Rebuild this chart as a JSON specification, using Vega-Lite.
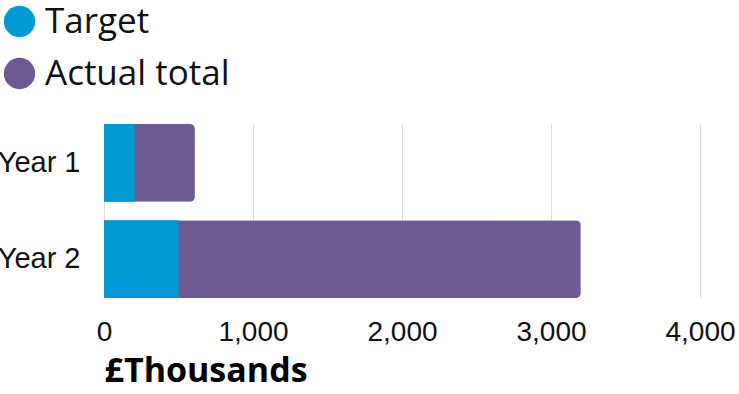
{
  "$schema": "https://vega.github.io/schema/vega-lite/v6.json",
  "autosize": {"type": "none"},
  "padding": {"left": 104, "top": 124, "right": 39, "bottom": 96},
  "width": 596,
  "height": 174,
  "background": "white",
  "config": {"view": {"stroke": null}},
  "data": {"values": [
    {"year": "Year 1", "series": "Actual total", "value": 610},
    {"year": "Year 2", "series": "Actual total", "value": 3200},
    {"year": "Year 1", "series": "Target", "value": 205},
    {"year": "Year 2", "series": "Target", "value": 500}
  ]},
  "encoding": {
    "y": {"field": "year", "type": "nominal", "title": null,
      "scale": {"paddingInner": 0.19, "paddingOuter": 0},
      "axis": {"domain": false, "ticks": false, "labelFont": "Liberation Sans", "labelFontSize": 29, "labelColor": "#111", "labelPadding": 24, "labelFontWeight": "normal"}},
    "x": {"field": "value", "type": "quantitative", "title": "£Thousands",
      "scale": {"domain": [0, 4000]},
      "axis": {"values": [0, 1000, 2000, 3000, 4000], "format": ",.0f", "domain": false, "ticks": false,
        "grid": true, "gridColor": "#dddddd", "gridWidth": 1, "labelFlush": false,
        "labelFont": "Liberation Sans", "labelFontSize": 28, "labelColor": "#111", "labelPadding": 20,
        "titleFont": "Open Sans", "titleFontWeight": "bold", "titleFontSize": 34, "titleColor": "#000",
        "titleAnchor": "start", "titleAlign": "left", "titlePadding": 8}},
    "color": {"field": "series", "type": "nominal",
      "scale": {"domain": ["Target", "Actual total"], "range": ["#0399d5", "#6e5a92"]},
      "legend": {"orient": "none", "legendX": -102, "legendY": -120, "title": null,
        "symbolType": "circle", "symbolSize": 980, "symbolStrokeWidth": 0, "symbolOpacity": 1,
        "labelFont": "Open Sans", "labelFontSize": 35, "labelColor": "#111", "labelOffset": 8,
        "rowPadding": 16, "labelLimit": 400}}
  },
  "layer": [
    {"transform": [{"filter": "datum.series == 'Actual total'"}],
     "mark": {"type": "bar", "cornerRadiusEnd": 5}},
    {"transform": [{"filter": "datum.series == 'Target'"}],
     "mark": {"type": "bar"}}
  ]
}
